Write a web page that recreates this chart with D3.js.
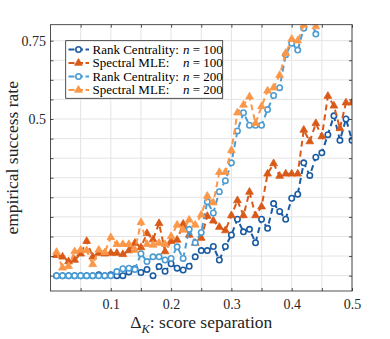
<!DOCTYPE html>
<html>
<head>
<meta charset="utf-8">
<script src="https://cdn.jsdelivr.net/npm/d3@7"></script>
<style>
  body { margin: 0; background: #fff; }
  svg { display: block; font-family: "Liberation Serif", "Times New Roman", serif; }
  svg text { font-family: "Liberation Serif", "Times New Roman", serif; }
</style>
</head>
<body>
<svg id="chart" width="390" height="339"></svg>
<script>
let WIDTH = 390, HEIGHT = 339;
let M = { top: 24.7, right: 38, bottom: 48, left: 50.5 };

// score separation values (x)
const separation = [0.01, 0.02, 0.03, 0.04, 0.05, 0.06, 0.07, 0.08, 0.09, 0.10,
                    0.11, 0.12, 0.13, 0.14, 0.15, 0.16, 0.17, 0.18, 0.19, 0.20,
                    0.21, 0.22, 0.23, 0.24, 0.25, 0.26, 0.27, 0.28, 0.29, 0.30,
                    0.31, 0.32, 0.33, 0.34, 0.35, 0.36, 0.37, 0.38, 0.39, 0.40,
                    0.41, 0.42, 0.43, 0.44, 0.45, 0.46, 0.47, 0.48, 0.49, 0.50];

// empirical success rates
const rankN100 = [0, 0, 0, 0, 0, 0, 0, 0.003, 0, 0.003,
                  0, 0, 0.012, 0.022, 0.01, 0.02, 0, 0.029, 0.014, 0.038,
                  0.024, 0.018, 0.03, 0.06, 0.08, 0.08, 0.093, 0.05, 0.093, 0.13,
                  0.18, 0.14, 0.148, 0.105, 0.18, 0.151, 0.23, 0.205, 0.18, 0.247,
                  0.26, 0.36, 0.32, 0.378, 0.392, 0.45, 0.51, 0.432, 0.50, 0.432];

const spectralN100 = [0.065, 0.06, 0.045, 0.05, 0.07, 0.11, 0.06, 0.072, 0.07, 0.072,
                      0.072, 0.068, 0.08, 0.104, 0.09, 0.135, 0.115, 0.167, 0.077, 0.11,
                      0.114, 0.165, 0.13, 0.104, 0.12, 0.19, 0.175, 0.155, 0.144, 0.192,
                      0.24, 0.192, 0.267, 0.192, 0.22, 0.325, 0.358, 0.318, 0.325, 0.325,
                      0.325, 0.465, 0.428, 0.486, 0.444, 0.573, 0.542, 0.47, 0.552, 0.552];

const rankN200 = [0, 0, 0, 0, 0, 0, 0, 0, 0, 0,
                  0.013, 0.022, 0.024, 0.02, 0.07, 0.045, 0.06, 0.06, 0.05, 0.055,
                  0.092, 0.055, 0.148, 0.105, 0.138, 0.236, 0.2, 0.268, 0.303, 0.36,
                  0.462, 0.52, 0.48, 0.48, 0.48, 0.53, 0.575, 0.60, 0.705, 0.742,
                  0.72, 0.79, 0.83, 0.771];

const spectralN200 = [0.075, 0.025, 0.03, 0.077, 0.082, 0.08, 0.036, 0.082, 0.074, 0.122,
                      0.10, 0.10, 0.10, 0.082, 0.17, 0.10, 0.098, 0.104, 0.10, 0.125,
                      0.162, 0.146, 0.178, 0.162, 0.194, 0.254, 0.233, 0.33, 0.33, 0.40,
                      0.52, 0.545, 0.571, 0.486, 0.54, 0.59, 0.60, 0.64, 0.71, 0.755,
                      0.75, 0.80, 0.84, 0.795];

const methodNames = ["Rank Centrality:", "Spectral MLE:", "Rank Centrality:", "Spectral MLE:"];
const sampleSizes = ["100", "100", "200", "200"];

const xTicks = [0.05, 0.1, 0.15, 0.2, 0.25, 0.3, 0.35, 0.4, 0.45, 0.5];
const xTickLabels = { 0.1: "0.1", 0.2: "0.2", 0.3: "0.3", 0.4: "0.4", 0.5: "0.5" };
const yTicks = [0, 0.0625, 0.125, 0.1875, 0.25, 0.3125, 0.375, 0.4375, 0.5, 0.5625, 0.625, 0.6875, 0.75];
const yTickLabels = { 0.5: "0.5", 0.75: "0.75" };

let series = [
    { name: methodNames[0], n: sampleSizes[0], values: rankN100,     color: "#1a5ca3", marker: "circle" },
    { name: methodNames[1], n: sampleSizes[1], values: spectralN100, color: "#d95a18", marker: "triangle" },
    { name: methodNames[2], n: sampleSizes[2], values: rankN200,     color: "#4b9dd4", marker: "circle" },
    { name: methodNames[3], n: sampleSizes[3], values: spectralN200, color: "#fb9748", marker: "triangle" }
];

let svg = d3.select("#chart");
let innerW = WIDTH - M.left - M.right;
let innerH = HEIGHT - M.top - M.bottom;

let x = d3.scaleLinear().domain([0, 0.5]).range([M.left, WIDTH - M.right]);
let y = d3.scaleLinear().domain([-0.049, 0.801]).range([HEIGHT - M.bottom, M.top]);

const axisColor = "#262626";
const serif = "'Liberation Serif', 'Times New Roman', serif";

// grid
let grid = svg.append("g").attr("class", "grid");
grid.selectAll("line.vx").data(xTicks).join("line")
    .attr("x1", d => x(d)).attr("x2", d => x(d))
    .attr("y1", M.top).attr("y2", HEIGHT - M.bottom)
    .attr("stroke", "#e4e4e4").attr("stroke-width", 1);
grid.selectAll("line.hy").data(yTicks).join("line")
    .attr("x1", M.left).attr("x2", WIDTH - M.right)
    .attr("y1", d => y(d)).attr("y2", d => y(d))
    .attr("stroke", "#e4e4e4").attr("stroke-width", 1);

// clip for data
svg.append("defs").append("clipPath").attr("id", "plot-clip")
    .append("rect")
    .attr("x", M.left).attr("y", M.top)
    .attr("width", innerW).attr("height", innerH);

let plot = svg.append("g").attr("clip-path", "url(#plot-clip)");

let line = d3.line()
    .x((d, i) => x(separation[i]))
    .y(d => y(d));

let tri = d3.symbol().type(d3.symbolTriangle).size(26);

function drawMarker(sel, s) {
    if (s.marker === "circle") {
        sel.append("circle")
            .attr("r", 2.7)
            .attr("fill", "#fff")
            .attr("stroke", s.color)
            .attr("stroke-width", 1.6);
    } else {
        sel.append("path")
            .attr("d", tri)
            .attr("fill", s.color)
            .attr("stroke", s.color)
            .attr("stroke-width", 0.8);
    }
}

series.forEach(function(s) {
    plot.append("path")
        .datum(s.values)
        .attr("d", line)
        .attr("fill", "none")
        .attr("stroke", s.color)
        .attr("stroke-width", 2)
        .attr("stroke-dasharray", "6,4");

    plot.append("g").selectAll("g")
        .data(s.values)
        .join("g")
        .attr("transform", (d, i) => `translate(${x(separation[i])},${y(d)})`)
        .each(function() { drawMarker(d3.select(this), s); });
});

// axes (inward ticks, boxed)
let fmtX = d => xTickLabels[d] || "";
let fmtY = d => yTickLabels[d] || "";

let axB = svg.append("g").attr("transform", `translate(0,${HEIGHT - M.bottom})`)
    .call(d3.axisBottom(x).tickValues(xTicks).tickFormat(fmtX).tickSizeInner(-3).tickSizeOuter(0).tickPadding(8));
let axT = svg.append("g").attr("transform", `translate(0,${M.top})`)
    .call(d3.axisTop(x).tickValues(xTicks).tickFormat("").tickSizeInner(-3).tickSizeOuter(0));
let axL = svg.append("g").attr("transform", `translate(${M.left},0)`)
    .call(d3.axisLeft(y).tickValues(yTicks).tickFormat(fmtY).tickSizeInner(-3).tickSizeOuter(0).tickPadding(4.5));
let axR = svg.append("g").attr("transform", `translate(${WIDTH - M.right},0)`)
    .call(d3.axisRight(y).tickValues(yTicks).tickFormat("").tickSizeInner(-3).tickSizeOuter(0));

[axB, axT, axL, axR].forEach(function(a) {
    a.attr("font-family", serif);
    a.selectAll(".domain").remove();
    a.selectAll(".tick line").attr("stroke", axisColor).attr("stroke-width", 0.8);
    a.selectAll(".tick text")
        .attr("fill", axisColor)
        .style("font-family", serif)
        .style("font-size", "14px");
});

svg.append("rect")
    .attr("x", M.left).attr("y", M.top)
    .attr("width", innerW).attr("height", innerH)
    .attr("fill", "none")
    .attr("stroke", axisColor)
    .attr("stroke-width", 0.8);

// axis labels
let xl = svg.append("text")
    .attr("x", M.left + innerW / 2)
    .attr("y", 328)
    .attr("text-anchor", "middle")
    .attr("fill", axisColor)
    .style("font-family", serif)
    .style("font-size", "17.5px");
xl.append("tspan").text("\u0394");
xl.append("tspan").attr("dy", 5).style("font-style", "italic").style("font-size", "12.5px").text("K");
xl.append("tspan").attr("dy", -5).text(": score separation");

svg.append("text")
    .attr("transform", `translate(18,${M.top + innerH / 2}) rotate(-90)`)
    .attr("text-anchor", "middle")
    .attr("fill", axisColor)
    .style("font-family", serif)
    .style("font-size", "17.5px")
    .text("empirical success rate");

// legend
let lg = svg.append("g").attr("class", "legend");
lg.append("rect")
    .attr("x", 65.7).attr("y", 40.7)
    .attr("width", 157).attr("height", 57.6)
    .attr("fill", "#fff")
    .attr("stroke", axisColor)
    .attr("stroke-width", 0.8);

let rows = lg.selectAll("g.row").data(series).join("g")
    .attr("class", "row")
    .attr("transform", (d, i) => `translate(0,${49.5 + i * 13.5})`);

rows.append("line")
    .attr("x1", 68.5).attr("x2", 89)
    .attr("y1", 0).attr("y2", 0)
    .attr("stroke", d => d.color)
    .attr("stroke-width", 2)
    .attr("stroke-dasharray", "6,2.5");
rows.each(function(s) {
    let m = d3.select(this).append("g").attr("transform", "translate(78.5,0)");
    drawMarker(m, s);
});
rows.append("text")
    .attr("x", 92.5).attr("y", 4.4)
    .attr("fill", "#000")
    .style("font-family", serif)
    .style("font-size", "13px")
    .text(d => d.name);
let nt = rows.append("text")
    .attr("x", 183).attr("y", 4.4)
    .attr("fill", "#000")
    .style("font-family", serif)
    .style("font-size", "13px");
nt.append("tspan").style("font-style", "italic").text("n");
nt.append("tspan").text(d => " = " + d.n);
</script>
</body>
</html>
